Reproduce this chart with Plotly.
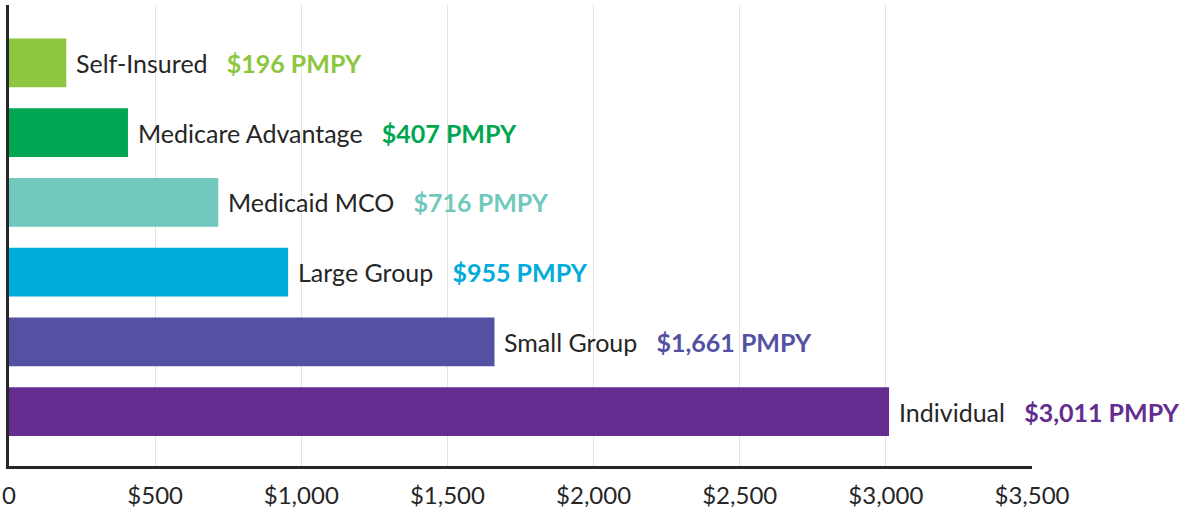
import plotly.graph_objects as go

categories = ["Self-Insured", "Medicare Advantage", "Medicaid MCO", "Large Group", "Small Group", "Individual"]
values = [196, 407, 716, 955, 1661, 3011]
value_labels = ["$196 PMPY", "$407 PMPY", "$716 PMPY", "$955 PMPY", "$1,661 PMPY", "$3,011 PMPY"]
colors = ["#8DC63F", "#00A651", "#70C9BC", "#00ACDA", "#5451A3", "#652D90"]
tick_vals = [0, 500, 1000, 1500, 2000, 2500, 3000, 3500]
tick_text = ["0", "$500", "$1,000", "$1,500", "$2,000", "$2,500", "$3,000", "$3,500"]

FONT = "Lato"
NB = "\u00a0"

fig = go.Figure()
fig.add_trace(go.Bar(
    x=values, y=categories, orientation="h",
    marker=dict(color=colors, line=dict(width=0)),
    width=0.7, hoverinfo="skip",
))

for c, v, lab, col in zip(categories, values, value_labels, colors):
    fig.add_annotation(
        x=v, y=c, xref="x", yref="y", xanchor="left", yanchor="middle",
        xshift=8, showarrow=False,
        text=f"{c}{NB*3}<b><span style='color:{col}'>{lab}</span></b>",
        font=dict(family=FONT, size=25, color="#262626"),
    )

fig.update_layout(
    width=1180, height=508,
    margin=dict(l=9, r=148, t=5, b=42, autoexpand=False),
    plot_bgcolor="white", paper_bgcolor="white",
    showlegend=False,
    font=dict(family=FONT, size=25, color="#262626"),
    xaxis=dict(
        range=[0, 3500], tickvals=tick_vals, ticktext=tick_text,
        showgrid=True, gridcolor="#E3E3E3", gridwidth=1,
        showline=True, linecolor="#262626", linewidth=2.5,
        zeroline=False, ticks="", ticklabelstandoff=6, automargin=False,
        tickfont=dict(family=FONT, size=24, color="#262626"),
    ),
    yaxis=dict(
        categoryorder="array", categoryarray=categories,
        range=[5.78, -0.83], showticklabels=False, showgrid=False,
        showline=True, linecolor="#262626", linewidth=2.5, zeroline=False,
        ticks="", automargin=False,
    ),
)

fig.write_html(
    "out.html",
    config={"displayModeBar": False},
    post_script="document.body.style.margin='0';document.body.style.overflow='hidden';",
)
